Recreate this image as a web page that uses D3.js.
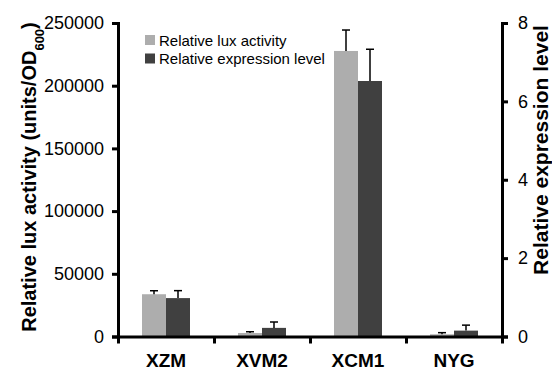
<!DOCTYPE html>
<html>
<head>
<meta charset="utf-8">
<script src="https://cdn.jsdelivr.net/npm/d3@7"></script>
<style>
  body { margin: 0; background: #fff; }
  svg { display: block; font-family: "Liberation Sans", Arial, sans-serif; }
  .axis path, .axis line { stroke: #000; stroke-width: 3; }
  .axis text { font-size: 18px; fill: #000; }
</style>
</head>
<body>
<div id="chart"></div>
<script>
const categories = ["XZM", "XVM2", "XCM1", "NYG"]
const luxActivity = [33700, 2800, 227700, 1750]
const luxError = [2800, 1000, 16700, 1300]
const exprLevel = [0.98, 0.22, 6.52, 0.15]
const exprError = [0.19, 0.15, 0.81, 0.14]
const leftTicks = [0, 50000, 100000, 150000, 200000, 250000]
const rightTicks = [0, 2, 4, 6, 8]
const seriesNames = ["Relative lux activity", "Relative expression level"]

const config = {
    width: 552,
    height: 371,
    left: 118,
    right: 502,
    top: 23,
    bottom: 336.5,
    colors: ["#adadad", "#404040"]
}

const svg = d3.select("#chart").append("svg")
    .attr("width", config.width)
    .attr("height", config.height)

const xScale = d3.scaleBand()
    .domain(categories)
    .range([config.left, config.right])
    .paddingInner(0.5)
    .paddingOuter(0.25)
const xSub = d3.scaleBand()
    .domain([0, 1])
    .range([0, xScale.bandwidth()])
const xBound = d3.scaleLinear()
    .domain([0, categories.length])
    .range([config.left, config.right])
const yLeft = d3.scaleLinear()
    .domain([0, 250000])
    .range([config.bottom, config.top])
const yRight = d3.scaleLinear()
    .domain([0, 8])
    .range([config.bottom, config.top])

// rows: one per category, two bars each
const rows = categories.map((c, i) => ([
    { cat: c, s: 0, v: luxActivity[i], e: luxError[i], y: yLeft },
    { cat: c, s: 1, v: exprLevel[i], e: exprError[i], y: yRight }
])).flat()

const bars = svg.append("g")
bars.selectAll("rect")
    .data(rows)
    .join("rect")
    .attr("x", d => xScale(d.cat) + xSub(d.s))
    .attr("width", xSub.bandwidth())
    .attr("y", d => d.y(d.v))
    .attr("height", d => config.bottom - d.y(d.v))
    .attr("fill", d => config.colors[d.s])

const errs = svg.append("g").attr("stroke", "#000").attr("stroke-width", 1.5)
errs.selectAll(".err")
    .data(rows)
    .join("line")
    .attr("class", "err")
    .attr("x1", d => xScale(d.cat) + xSub(d.s) + xSub.bandwidth() / 2)
    .attr("x2", d => xScale(d.cat) + xSub(d.s) + xSub.bandwidth() / 2)
    .attr("y1", d => d.y(d.v))
    .attr("y2", d => d.y(d.v + d.e))
errs.selectAll(".cap")
    .data(rows)
    .join("line")
    .attr("class", "cap")
    .attr("x1", d => xScale(d.cat) + xSub(d.s) + xSub.bandwidth() / 2 - 4)
    .attr("x2", d => xScale(d.cat) + xSub(d.s) + xSub.bandwidth() / 2 + 4)
    .attr("y1", d => d.y(d.v + d.e))
    .attr("y2", d => d.y(d.v + d.e))

// axes
svg.append("g")
    .attr("class", "axis")
    .attr("transform", `translate(${config.left},0)`)
    .call(d3.axisLeft(yLeft).tickValues(leftTicks).tickFormat(d3.format("d")).tickSize(6).tickPadding(8))

svg.append("g")
    .attr("class", "axis")
    .attr("transform", `translate(${config.right},0)`)
    .call(d3.axisRight(yRight).tickValues(rightTicks).tickSize(6).tickPadding(10))

svg.append("g")
    .attr("class", "axis")
    .attr("transform", `translate(0,${config.bottom})`)
    .call(d3.axisBottom(xBound).tickValues(d3.range(categories.length + 1)).tickFormat("").tickSize(7).tickSizeOuter(0))

const xLabels = svg.append("g")
    .attr("class", "axis")
    .attr("transform", `translate(0,${config.bottom})`)
    .call(d3.axisBottom(xScale).tickSize(0).tickPadding(17))
xLabels.select(".domain").remove()
xLabels.selectAll("text")
    .style("font-weight", "bold")
    .style("font-size", "19px")

// axis titles
const leftTitle = svg.append("text")
    .attr("transform", "translate(36,177) rotate(-90)")
    .attr("text-anchor", "middle")
    .style("font-weight", "bold")
    .style("font-size", "20px")
leftTitle.append("tspan").text("Relative lux activity (units/OD")
leftTitle.append("tspan").attr("baseline-shift", "sub").style("font-size", "13px").text("600")
leftTitle.append("tspan").text(")")

svg.append("text")
    .attr("transform", "translate(548,150) rotate(-90)")
    .attr("text-anchor", "middle")
    .style("font-weight", "bold")
    .style("font-size", "21px")
    .text("Relative expression level")

// legend
const legend = svg.append("g")
legend.selectAll("rect")
    .data(seriesNames)
    .join("rect")
    .attr("x", 145)
    .attr("y", (d, i) => 35 + i * 18.5)
    .attr("width", 10)
    .attr("height", 10)
    .attr("fill", (d, i) => config.colors[i])
legend.selectAll("text")
    .data(seriesNames)
    .join("text")
    .attr("x", 159)
    .attr("y", (d, i) => 45.5 + i * 18.5)
    .style("font-size", "15px")
    .text(d => d)
</script>
</body>
</html>
